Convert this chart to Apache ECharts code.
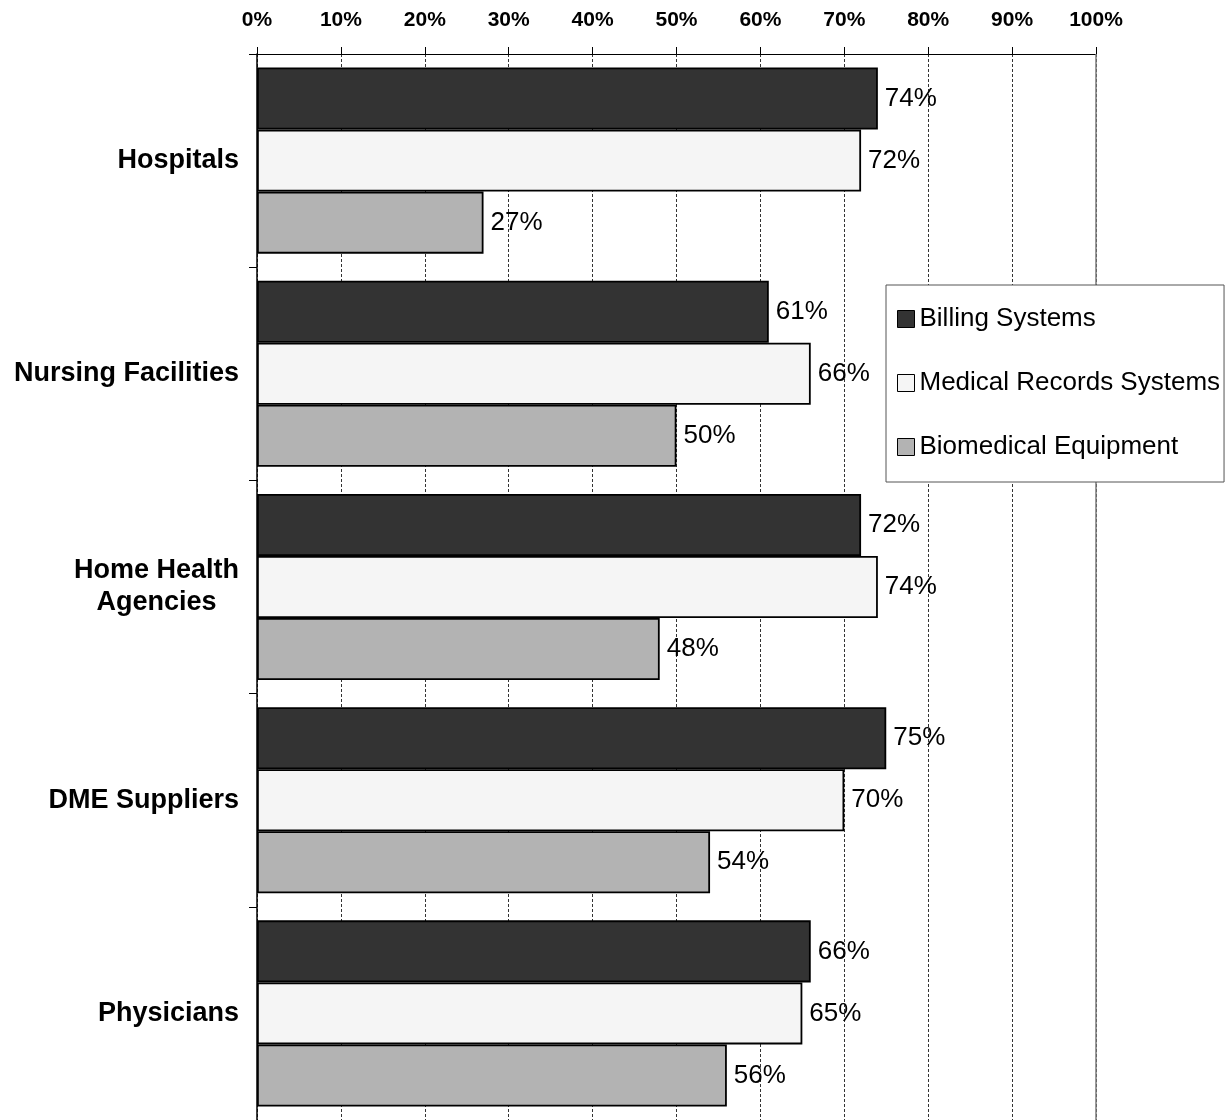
<!DOCTYPE html>
<html>
<head>
<meta charset="utf-8">
<title>Systems by provider type</title>
<script src="https://cdn.jsdelivr.net/npm/echarts@6/dist/echarts.min.js"></script>
<style>
  html, body { margin: 0; padding: 0; background: #ffffff; }
  #chart { width: 1225px; height: 1120px; }
</style>
</head>
<body>
<div id="chart"></div>
<script>
// Provider groups, top to bottom
const categories = ['Hospitals', 'Nursing Facilities', 'Home Health\nAgencies', 'DME Suppliers', 'Physicians'];

// Percent of providers, by system type
const billingSystems = [74, 61, 72, 75, 66];
const medicalRecordsSystems = [72, 66, 74, 70, 65];
const biomedicalEquipment = [27, 50, 48, 54, 56];

const seriesNames = ['Billing Systems', 'Medical Records Systems', 'Biomedical Equipment'];
const seriesColors = ['#333333', '#f5f5f5', '#b3b3b3'];

const FONT = '"Liberation Sans", Arial, Helvetica, sans-serif';

function makeSeries(name, values, color) {
  return {
    name: name,
    type: 'bar',
    data: values,
    barGap: '0%',
    barCategoryGap: '12.7%',
    itemStyle: { color: color, borderColor: '#000000', borderWidth: 1.8 },
    label: {
      show: true,
      position: 'right',
      distance: 7,
      formatter: '{c}%',
      color: '#000000',
      fontFamily: FONT,
      fontSize: 26
    },
    emphasis: { disabled: true }
  };
}

const series = [
  makeSeries(seriesNames[0], billingSystems, seriesColors[0]),
  makeSeries(seriesNames[1], medicalRecordsSystems, seriesColors[1]),
  makeSeries(seriesNames[2], biomedicalEquipment, seriesColors[2])
];

// Solid frame line on the right edge of the plot (100%), kept beneath the legend
series[0].markLine = {
  silent: true,
  z: 1,
  symbol: ['none', 'none'],
  label: { show: false },
  lineStyle: { type: 'solid', color: '#7a7a7a', width: 1.5 },
  data: [{ xAxis: 100 }],
  animation: false
};

const chart = echarts.init(document.getElementById('chart'), null, { renderer: 'canvas' });

chart.setOption({
  animation: false,
  backgroundColor: '#ffffff',
  textStyle: { fontFamily: FONT },
  grid: {
    left: 257,
    top: 54,
    width: 839,
    height: 1066
  },
  legend: {
    orient: 'vertical',
    left: 886,
    top: 285,
    z: 20,
    data: seriesNames,
    icon: 'rect',
    itemWidth: 17,
    itemHeight: 17,
    itemGap: 34,
    padding: [19, 4, 20, 11],
    backgroundColor: '#ffffff',
    borderColor: '#555555',
    borderWidth: 1,
    itemStyle: { borderColor: '#000000', borderWidth: 1 },
    textStyle: { fontFamily: FONT, fontSize: 26, color: '#000000', lineHeight: 30, padding: [0, 0, 0, 0] }
  },
  xAxis: {
    type: 'value',
    position: 'top',
    min: 0,
    max: 100,
    interval: 10,
    axisLine: { show: true, lineStyle: { color: '#000000', width: 1 } },
    axisTick: { show: true, length: 7, lineStyle: { color: '#000000' } },
    axisLabel: {
      formatter: '{value}%',
      margin: 23,
      color: '#000000',
      fontFamily: FONT,
      fontWeight: 'bold',
      fontSize: 21
    },
    splitLine: { show: true, lineStyle: { color: '#333333', type: [3, 2], width: 1 } }
  },
  yAxis: {
    type: 'category',
    inverse: true,
    data: categories,
    axisLine: { show: true, lineStyle: { color: '#000000', width: 1.5 } },
    axisTick: { show: true, length: 8, lineStyle: { color: '#000000' } },
    axisLabel: {
      margin: 18,
      color: '#000000',
      fontFamily: FONT,
      fontWeight: 'bold',
      fontSize: 27,
      lineHeight: 32,
      formatter: function (v) {
        return v.split('\n').map(function (line) { return '{c|' + line + '}'; }).join('\n');
      },
      rich: {
        c: { align: 'center', fontFamily: FONT, fontWeight: 'bold', fontSize: 27, lineHeight: 32, color: '#000000' }
      }
    },
    splitLine: { show: false }
  },
  series: series
});
</script>
</body>
</html>
